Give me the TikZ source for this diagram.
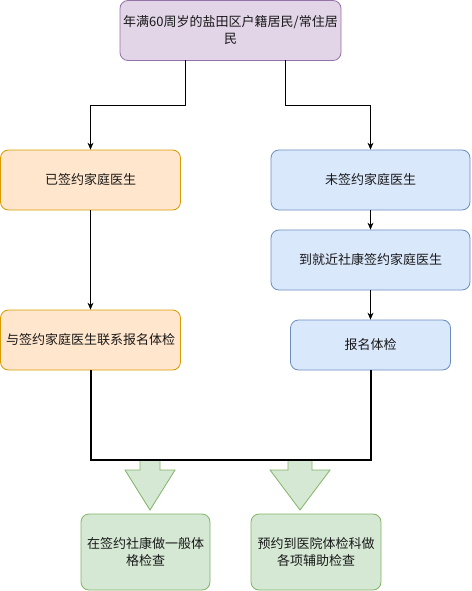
\documentclass[tikz,border=0pt]{standalone}
\usepackage{fontspec}
\newfontfamily\cjk{Noto Sans CJK SC}
\usetikzlibrary{arrows.meta}
\definecolor{pfill}{HTML}{E1D5E7}\definecolor{pdraw}{HTML}{9673A6}
\definecolor{ofill}{HTML}{FFE6CC}\definecolor{odraw}{HTML}{D79B00}
\definecolor{bfill}{HTML}{DAE8FC}\definecolor{bdraw}{HTML}{6C8EBF}
\definecolor{gfill}{HTML}{D5E8D4}\definecolor{gdraw}{HTML}{82B366}
\tikzset{
  box/.style={rectangle, rounded corners=8pt, line width=0.8pt, align=center, inner sep=0pt,
    font=\cjk\fontsize{13}{17}\selectfont, text=black!90},
  purplebox/.style={box, fill=pfill, draw=pdraw},
  orangebox/.style={box, fill=ofill, draw=odraw},
  bluebox/.style={box, fill=bfill, draw=bdraw},
  greenbox/.style={box, fill=gfill, draw=gdraw},
  conn/.style={line width=0.9pt, -{Stealth[length=7pt,width=6pt]}},
  thick line/.style={line width=2pt},
  blockarrow/.style={fill=gfill, draw=gdraw, line width=0.8pt, line join=miter}
}
\begin{document}
\begin{tikzpicture}[x=1pt,y=-1pt]
\useasboundingbox (0,0) rectangle (471,591);
\node[purplebox, minimum width=221pt, minimum height=60pt] (top) at (230.5,30.5) {年满60周岁的盐田区户籍居民/常住居\\民};
\node[orangebox, minimum width=180pt, minimum height=60pt] (l1) at (90.5,180) {已签约家庭医生};
\node[orangebox, minimum width=180pt, minimum height=60pt] (l2) at (90.5,340) {与签约家庭医生联系报名体检};
\node[bluebox, minimum width=199pt, minimum height=60pt] (r1) at (370.5,180) {未签约家庭医生};
\node[bluebox, minimum width=199pt, minimum height=60pt] (r2) at (370.5,260) {到就近社康签约家庭医生};
\node[bluebox, minimum width=160pt, minimum height=50pt] (r3) at (370.5,345) {报名体检};
\node[greenbox, minimum width=129pt, minimum height=76pt] (b1) at (145.5,552) {在签约社康做一般体\\格检查};
\node[greenbox, minimum width=130pt, minimum height=76pt] (b2) at (316,552) {预约到医院体检科做\\各项辅助检查};

\coordinate (tl) at (185.5,60.5);
\coordinate (tr) at (285.5,60.5);
\draw[conn] (tl) -- (185.5,105) -| (l1.north);
\draw[conn] (tr) -- (285.5,105) -| (r1.north);
\draw[conn] (l1.south) -- (l2.north);
\draw[conn] (r1.south) -- (r2.north);
\draw[conn] (r2.south) -- (r3.north);
\draw[thick line] (l2.south) -- (90.5,460) -| (r3.south);

% block arrows
\draw[blockarrow] (140,460) -- (160,460) -- (160,470) -- (175,470) -- (150,510) -- (125,470) -- (140,470) -- cycle;
\draw[blockarrow] (288,460) -- (312,460) -- (312,470) -- (330,470) -- (300,510) -- (270,470) -- (288,470) -- cycle;
\draw[thick line] (l2.south) -- (90.5,460) -| (r3.south);
\end{tikzpicture}
\end{document}
